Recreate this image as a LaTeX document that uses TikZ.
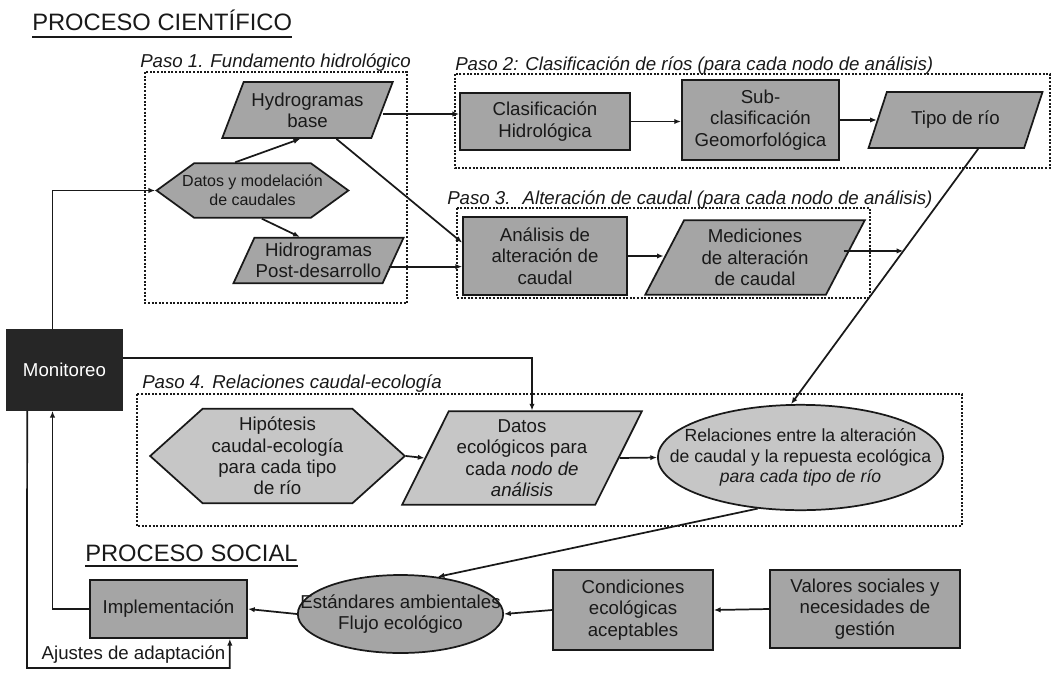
\documentclass[tikz,border=0pt]{standalone}
\usepackage{fontspec}
\setmainfont{Liberation Sans}
\usetikzlibrary{shapes.geometric,shapes.symbols,arrows.meta,calc}
\definecolor{midgray}{RGB}{165,165,165}
\definecolor{litgray}{RGB}{198,198,198}
\definecolor{mondark}{RGB}{38,38,38}
\definecolor{ink}{RGB}{25,25,25}
\tikzset{
  base/.style={draw=ink,line width=1.3pt,font=\fontsize{14}{16}\selectfont,align=center,inner sep=1pt,text=ink},
  boxnode/.style={base,rectangle,fill=midgray},
  para/.style={base,trapezium,trapezium stretches=true,fill=midgray},
  hexa/.style={base,signal,signal to=west and east,fill=midgray},
  oval/.style={base,ellipse,inner sep=0pt,fill=midgray},
  ovaltext/.style={align=center,inner sep=0pt,font=\fontsize{14}{16}\selectfont,text=ink},
  pbox/.style={draw=ink,line width=0.9pt,dash pattern=on 1.5pt off 1.2pt},
  arr/.style={draw=ink,line width=1.3pt,-{Latex[length=5pt,width=4pt]}},
  steplabel/.style={anchor=base west,inner sep=0pt,font=\fontsize{14}{16}\selectfont\itshape,text=ink},
  titlelabel/.style={anchor=base west,inner sep=0pt,font=\fontsize{17.8}{20}\selectfont,text=ink}
}
\begin{document}
\begin{tikzpicture}[x=0.75pt,y=-0.75pt]
\useasboundingbox (0,0) rectangle (1055,678);

% titles
\node[titlelabel] (t1) at (32,31) {PROCESO CIENTÍFICO};
\draw[line width=1.3pt,ink] ([yshift=-4.5pt]t1.base west) -- ([yshift=-4.5pt]t1.base east);
\node[titlelabel] (t2) at (85,561) {PROCESO SOCIAL};
\draw[line width=1.3pt,ink] ([yshift=-4pt]t2.base west) -- ([yshift=-4pt]t2.base east);

% step frames and labels
\draw[pbox] (145,72) rectangle (407,303);
\draw[pbox] (455,74) rectangle (1050,168);
\draw[pbox] (457,208) rectangle (870,298);
\draw[pbox] (137,394) rectangle (962,526);
\node[steplabel] (p1) at (140,67) {Paso 1. Fundamento hidrológico};
\node[steplabel] (p2) at (455,70) {Paso 2: Clasificación de ríos (para cada nodo de análisis)};
\node[steplabel] (p3) at (447,204) {Paso 3.~ Alteración de caudal (para cada nodo de análisis)};
\node[steplabel] (p4) at (142,388) {Paso 4. Relaciones caudal-ecología};

% Paso 1
\node[para,trapezium left angle=63,trapezium right angle=117,minimum width=128pt,minimum height=42pt] (hb) at (307.5,110) {Hydrogramas\\base};
\node[hexa,font=\fontsize{12}{14}\selectfont,signal pointer angle=72,inner xsep=-9pt,minimum width=142pt,minimum height=41pt] (dm) at (252.5,190.5) {Datos y modelación\\de caudales};
\node[para,trapezium left angle=61,trapezium right angle=119,minimum width=118pt,minimum height=34pt] (hp) at (318.5,260.5) {Hidrogramas\\Post-desarrollo};

% Paso 2
\node[boxnode,minimum width=127.5pt,minimum height=43pt] (cl) at (545,121.5) {Clasificación\\Hidrológica};
\node[boxnode,minimum width=118pt,minimum height=60pt] (sub) at (760.5,120) {Sub-\\clasificación\\Geomorfológica};
\node[para,trapezium left angle=59,trapezium right angle=121,minimum width=131pt,minimum height=42pt] (tipo) at (955.5,120) {Tipo de río};

% Paso 3
\node[boxnode,minimum width=123pt,minimum height=58.5pt] (an) at (545,256) {Análisis de\\alteración de\\caudal};
\node[para,trapezium left angle=63,trapezium right angle=117,minimum width=165pt,minimum height=56pt] (med) at (755,257.5) {Mediciones\\de alteración\\de caudal};

% Monitoreo
\node[base,rectangle,fill=mondark,draw=mondark,text=white,minimum width=86pt,minimum height=60pt] (mon) at (64.5,370) {Monitoreo};

% Paso 4
\node[hexa,fill=litgray,signal pointer angle=84,minimum width=191pt,minimum height=71pt] (hip) at (277.5,456) {Hipótesis\\caudal-ecología\\para cada tipo\\de río};
\node[para,fill=litgray,trapezium left angle=62,trapezium right angle=118,minimum width=180pt,minimum height=70pt] (de) at (522,458) {Datos\\ecológicos para\\cada \textit{nodo de}\\\textit{análisis}};
\node[oval,fill=litgray,minimum width=214pt,minimum height=79pt] (rel) at (800.5,457.5) {};
\node[ovaltext,font=\fontsize{13.2}{15.5}\selectfont] (relt) at (rel.center) {Relaciones entre la alteración\\de caudal y la repuesta ecológica\\\textit{para cada tipo de río}};

% Proceso social
\node[boxnode,minimum width=118pt,minimum height=43.5pt] (imp) at (168.5,609) {Implementación};
\node[oval,minimum width=154pt,minimum height=58.5pt] (est) at (400.5,614) {};
\node[ovaltext] (estt) at (est.center) {Estándares ambientales\\Flujo ecológico};
\node[boxnode,minimum width=120pt,minimum height=60pt] (con) at (633,610) {Condiciones\\ecológicas\\aceptables};
\node[boxnode,minimum width=142.5pt,minimum height=58.5pt] (val) at (865,609) {Valores sociales y\\necesidades de\\gestión};
\node[inner sep=0pt,font=\fontsize{14}{16}\selectfont,text=ink] (aj) at (133.5,655) {Ajustes de adaptación};

% connectors
\draw[arr] ([xshift=-13pt]dm.north) -- ([xshift=-5.5pt]hb.south);
\draw[arr] ([xshift=7pt]dm.south) -- ([xshift=-14pt]hp.north);
\draw[arr] ([yshift=-3pt]hb.east) -- ([yshift=-3pt]hb.east -| cl.west);
\draw[arr] (cl.east) -- (cl.east -| sub.west);
\draw[arr] (sub.east) -- (tipo.west);
\draw[arr] (hb.south east) -- ([yshift=10pt]an.west);
\coordinate (a7) at ([yshift=-8pt]an.west);
\draw[arr] ([xshift=-4pt]hp.east |- a7) -- (a7);
\draw[arr] (an.east) -- (an.east -| med.west);
\coordinate (ts) at ([xshift=17pt]tipo.south);
\coordinate (rt) at (rel.100);
\draw[arr] (ts) -- (rt);
\coordinate (j) at ($(ts)!0.4!(rt)$);
\draw[arr] ([xshift=-2pt]med.east |- j) -- (j);
\draw[arr] ([xshift=-9pt]mon.north) |- (dm.west);
\draw[arr] ([yshift=9pt]mon.east) -| ([xshift=7.5pt]de.north);
\draw[arr] (hip.east) -- (de.west);
\draw[arr] (de.east) -- (rel.west);
\draw[arr] (rel.230) -- (est.45);
\draw[arr] (val.west) -- (con.east);
\draw[arr] (con.west) -- (est.east);
\draw[arr] (est.west) -- (imp.east);
\draw[arr] (imp.west) -| ([xshift=-9pt]mon.south);
\coordinate (bot) at (27,668);
\draw[arr] ([xshift=-28pt]mon.south) -- (bot) -| ([xshift=46pt]imp.south);
\end{tikzpicture}
\end{document}
